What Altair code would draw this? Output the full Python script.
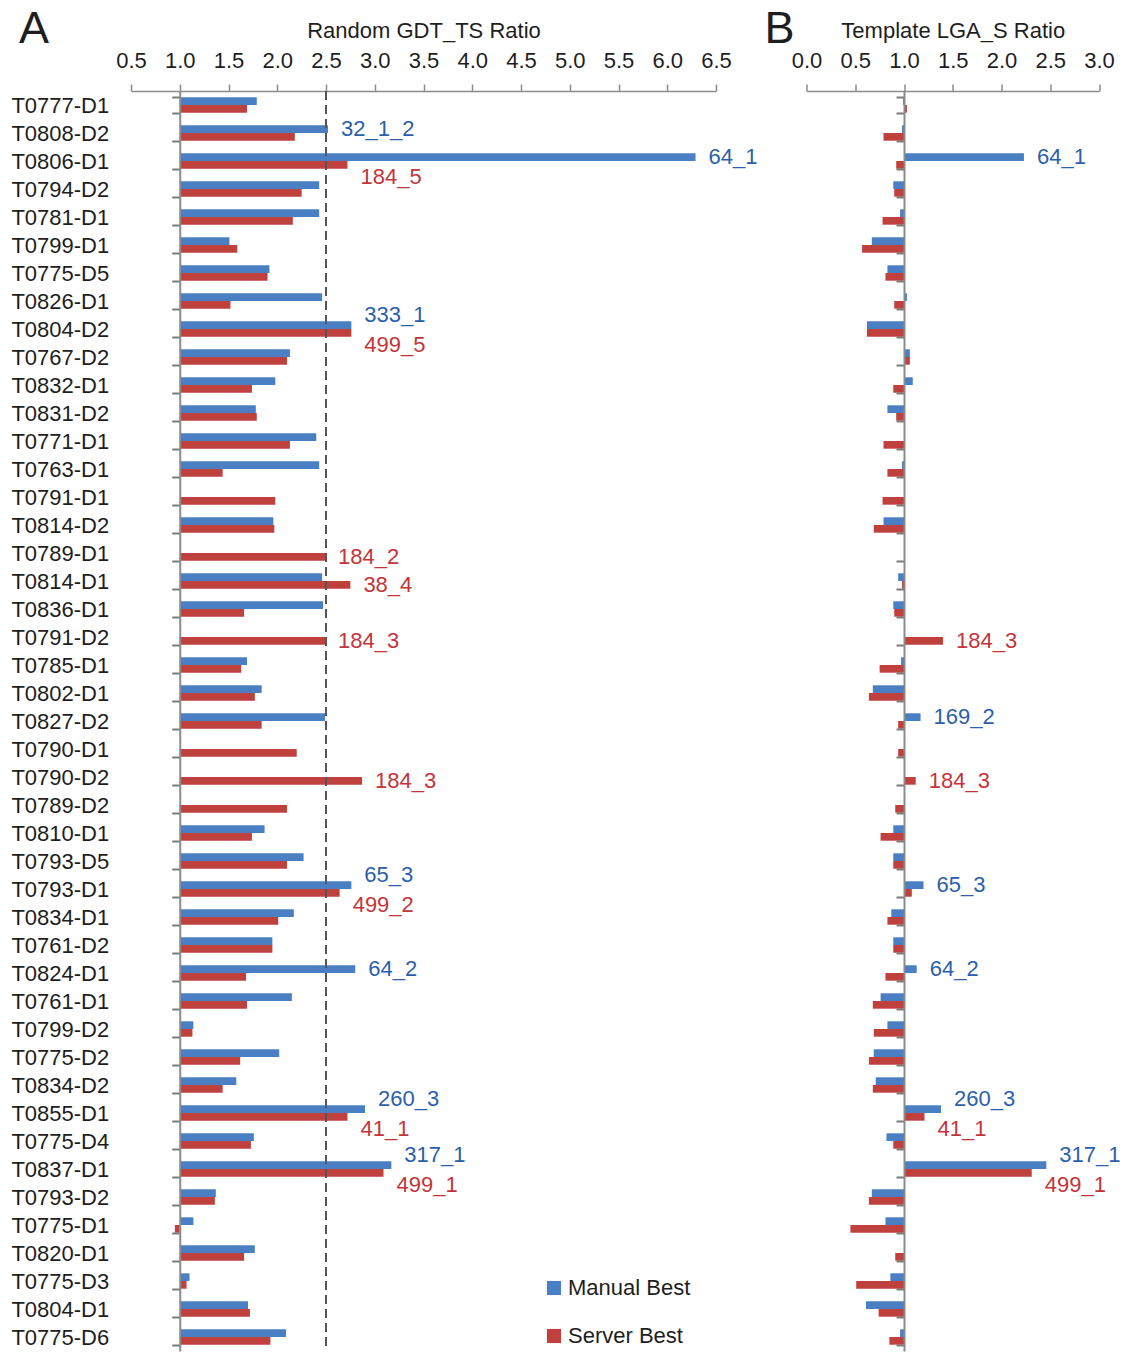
import altair as alt
import pandas as pd

# Targets in plotting order (top to bottom)
targets = [
    "T0777-D1", "T0808-D2", "T0806-D1", "T0794-D2", "T0781-D1", "T0799-D1",
    "T0775-D5", "T0826-D1", "T0804-D2", "T0767-D2", "T0832-D1", "T0831-D2",
    "T0771-D1", "T0763-D1", "T0791-D1", "T0814-D2", "T0789-D1", "T0814-D1",
    "T0836-D1", "T0791-D2", "T0785-D1", "T0802-D1", "T0827-D2", "T0790-D1",
    "T0790-D2", "T0789-D2", "T0810-D1", "T0793-D5", "T0793-D1", "T0834-D1",
    "T0761-D2", "T0824-D1", "T0761-D1", "T0799-D2", "T0775-D2", "T0834-D2",
    "T0855-D1", "T0775-D4", "T0837-D1", "T0793-D2", "T0775-D1", "T0820-D1",
    "T0775-D3", "T0804-D1", "T0775-D6",
]
series = ["Manual Best", "Server Best"]

# Random GDT_TS ratio
gdt_manual = [
    1.79, 2.52, 6.29, 2.43, 2.43, 1.51, 1.92, 2.46, 2.76, 2.13, 1.98, 1.78,
    2.40, 2.43, None, 1.96, None, 2.46, 2.47, None, 1.69, 1.84, 2.49, None,
    None, None, 1.87, 2.27, 2.76, 2.17, 1.95, 2.80, 2.15, 1.14, 2.02, 1.58,
    2.90, 1.76, 3.17, 1.37, 1.14, 1.77, 1.10, 1.70, 2.09,
]
gdt_server = [
    1.69, 2.18, 2.72, 2.25, 2.16, 1.59, 1.90, 1.52, 2.76, 2.10, 1.74, 1.79,
    2.13, 1.44, 1.98, 1.97, 2.49, 2.75, 1.66, 2.49, 1.63, 1.77, 1.84, 2.20,
    2.87, 2.10, 1.74, 2.10, 2.64, 2.01, 1.95, 1.68, 1.69, 1.13, 1.62, 1.44,
    2.72, 1.73, 3.09, 1.36, 0.95, 1.66, 1.07, 1.72, 1.93,
]

# Template LGA_S ratio
lga_manual = [
    0.99, 0.98, 2.23, 0.89, 0.96, 0.67, 0.83, 1.03, 0.62, 1.06, 1.09, 0.83,
    None, 0.98, None, 0.79, None, 0.94, 0.89, None, 0.97, 0.68, 1.17, None,
    None, None, 0.89, 0.89, 1.20, 0.87, 0.89, 1.13, 0.76, 0.83, 0.69, 0.71,
    1.38, 0.82, 2.46, 0.67, 0.81, None, 0.86, 0.61, 0.96,
]
lga_server = [
    1.03, 0.79, 0.92, 0.90, 0.78, 0.57, 0.81, 0.90, 0.62, 1.06, 0.89, 0.92,
    0.79, 0.83, 0.78, 0.69, None, 0.98, 0.90, 1.40, 0.75, 0.64, 0.94, 0.94,
    1.12, 0.91, 0.76, 0.89, 1.08, 0.83, 0.89, 0.81, 0.68, 0.69, 0.64, 0.68,
    1.21, 0.89, 2.31, 0.64, 0.45, 0.91, 0.51, 0.74, 0.85,
]

# Model labels attached to selected bars
gdt_label_target = ["T0808-D2", "T0806-D1", "T0806-D1", "T0804-D2", "T0804-D2",
                    "T0789-D1", "T0814-D1", "T0791-D2", "T0790-D2", "T0793-D1",
                    "T0793-D1", "T0824-D1", "T0855-D1", "T0855-D1", "T0837-D1",
                    "T0837-D1"]
gdt_label_series = ["Manual Best", "Manual Best", "Server Best", "Manual Best",
                    "Server Best", "Server Best", "Server Best", "Server Best",
                    "Server Best", "Manual Best", "Server Best", "Manual Best",
                    "Manual Best", "Server Best", "Manual Best", "Server Best"]
gdt_label_text = ["32_1_2", "64_1", "184_5", "333_1", "499_5", "184_2", "38_4",
                  "184_3", "184_3", "65_3", "499_2", "64_2", "260_3", "41_1",
                  "317_1", "499_1"]

lga_label_target = ["T0806-D1", "T0791-D2", "T0827-D2", "T0790-D2", "T0793-D1",
                    "T0824-D1", "T0855-D1", "T0855-D1", "T0837-D1", "T0837-D1"]
lga_label_series = ["Manual Best", "Server Best", "Manual Best", "Server Best",
                    "Manual Best", "Manual Best", "Manual Best", "Server Best",
                    "Manual Best", "Server Best"]
lga_label_text = ["64_1", "184_3", "169_2", "184_3", "65_3", "64_2", "260_3",
                  "41_1", "317_1", "499_1"]

panel_letters = ["A", "B"]
axis_titles = ["Random GDT_TS Ratio", "Template LGA_S Ratio"]

FONT = "'Liberation Sans', Arial, sans-serif"
FS = 22
BAR_COLORS = ["#4A7FC3", "#C0403D"]
TEXT_COLORS = {"Manual Best": "#2C5FAB", "Server Best": "#C4353A"}
AXIS_GRAY = "#8C8C8C"
INK = "#1E1E1E"
STEP = 28
PX_PER_UNIT = 97.5


def long_table(manual, server):
    rows = []
    for t, m, s in zip(targets, manual, server):
        if m is not None:
            rows.append({"target": t, "series": series[0], "value": m})
        if s is not None:
            rows.append({"target": t, "series": series[1], "value": s})
    return pd.DataFrame(rows)


def label_table(bars, tgt, ser, txt):
    lab = pd.DataFrame({"target": tgt, "series": ser, "label": txt})
    lab = lab.merge(bars, on=["target", "series"], how="left")
    lab["tc"] = lab["series"].map(TEXT_COLORS)
    shifts = []
    for _, r in lab.iterrows():
        other = lab[(lab.target == r.target) & (lab.series != r.series)]
        if other.empty:
            shifts.append("mid")
        elif r.series == "Server Best":
            shifts.append("down")
        elif abs(r.value - other.value.iloc[0]) > 1.5:
            shifts.append("mid")
        else:
            shifts.append("up")
    lab["shift"] = shifts
    return lab


def panel(bars, labels, domain, tick_values, title, letter, letter_dx,
          show_names, dashed, legend):
    n_units = domain[1] - domain[0]
    width = n_units * PX_PER_UNIT
    height = STEP * len(targets)

    # the category axis sits on the 1.0 line, with ticks between rows
    y_axis = alt.Axis(
        title=None, offset=-(1.0 - domain[0]) * PX_PER_UNIT, zindex=1,
        domain=True, domainColor=AXIS_GRAY, domainWidth=2,
        ticks=True, tickBand="extent", tickSize=8, tickColor="#7A7A7A",
        tickWidth=2, labels=show_names, labelPadding=63,
        labelFontSize=FS, labelFont=FONT, labelColor=INK, labelLimit=0,
    )
    y = alt.Y("target:N", sort=targets, axis=y_axis,
              scale=alt.Scale(domain=targets, paddingInner=0.45,
                              paddingOuter=0.225))
    x_scale = alt.Scale(domain=domain, nice=False, zero=False)
    x_axis = alt.Axis(orient="top", values=tick_values, format=".1f",
                      title=title, titleFontSize=FS, titleFont=FONT,
                      titleFontWeight="normal", titleColor=INK, titlePadding=7,
                      labelFontSize=FS, labelFont=FONT, labelColor=INK,
                      labelPadding=12, labelFlush=False, labelOverlap=False,
                      tickSize=7, tickColor=AXIS_GRAY, tickWidth=1.5,
                      domainColor=AXIS_GRAY, domainWidth=1.5, grid=False)

    color = alt.Color("series:N", sort=series,
                      scale=alt.Scale(domain=series, range=BAR_COLORS),
                      legend=legend)

    bar_layer = alt.Chart(bars).mark_bar(size=7.7).encode(
        x=alt.X("value:Q", scale=x_scale, axis=x_axis),
        x2=alt.datum(1.0),
        y=y,
        yOffset=alt.YOffset("series:N", sort=series,
                            scale=alt.Scale(paddingInner=0, paddingOuter=0)),
        color=color,
    )

    layers = [bar_layer]
    if dashed is not None:
        layers.append(
            alt.Chart(bars).mark_rule(color="#555555", strokeWidth=2,
                                      strokeDash=[9, 5]).encode(x=alt.datum(dashed))
        )

    offsets = {"up": -10, "mid": 0, "down": 12}
    for key, dy in offsets.items():
        layers.append(
            alt.Chart(labels).transform_filter(alt.datum.shift == key).mark_text(
                align="left", baseline="middle", dx=13, dy=dy,
                fontSize=FS, font=FONT
            ).encode(
                x="value:Q",
                y=y,
                yOffset=alt.YOffset("series:N", sort=series),
                text="label:N",
                fill=alt.Fill("tc:N", scale=None),
            )
        )

    layers.append(
        alt.Chart(pd.DataFrame({"letter": [letter]})).mark_text(
            align="left", baseline="top", fontSize=45, font=FONT, color=INK
        ).encode(x=alt.value(letter_dx), y=alt.value(-84), text="letter:N")
    )

    return alt.layer(*layers).properties(width=width, height=height)


gdt_bars = long_table(gdt_manual, gdt_server)
lga_bars = long_table(lga_manual, lga_server)
gdt_labels = label_table(gdt_bars, gdt_label_target, gdt_label_series, gdt_label_text)
lga_labels = label_table(lga_bars, lga_label_target, lga_label_series, lga_label_text)

legend = alt.Legend(title=None, orient="none", legendX=412, legendY=1186,
                    symbolType="square", symbolSize=200, symbolStrokeWidth=0,
                    labelFontSize=FS, labelFont=FONT, labelColor=INK,
                    rowPadding=26, labelOffset=3, padding=0)

panel_a = panel(gdt_bars, gdt_labels, [0.5, 6.5],
                [0.5 + 0.5 * i for i in range(13)], axis_titles[0],
                panel_letters[0], -112, True, 2.5, legend)
panel_b = panel(lga_bars, lga_labels, [0.0, 3.0],
                [0.5 * i for i in range(7)], axis_titles[1],
                panel_letters[1], -42, False, None, None)

chart = alt.hconcat(panel_a, panel_b, spacing=90.5, bounds="flush").resolve_scale(
    color="independent"
).properties(
    padding={"left": 10, "top": 7, "right": 0, "bottom": 0},
    background="white",
).configure_view(stroke=None)

chart.save("out.html", embed_options={"renderer": "svg", "actions": False})
